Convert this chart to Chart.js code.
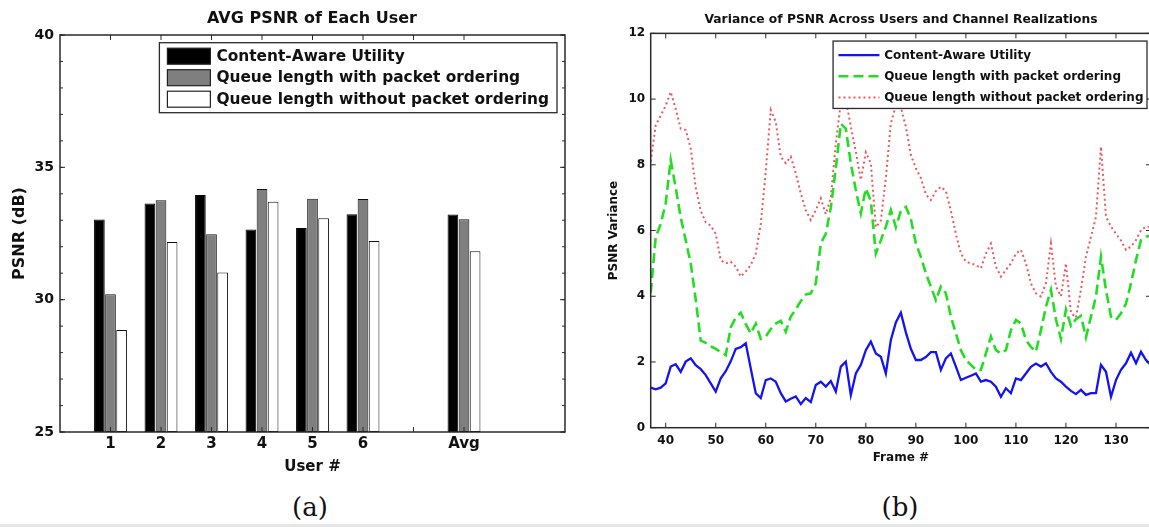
<!DOCTYPE html>
<html><head><meta charset="utf-8">
<script src="https://cdn.jsdelivr.net/npm/chart.js@4.4.0/dist/chart.umd.min.js"></script>
<style>
html,body{margin:0;padding:0;background:#fff;width:1149px;height:527px;overflow:hidden;position:relative;}
#wrapA{position:absolute;left:0;top:0;width:624px;height:490px;}
#wrapB{position:absolute;left:590px;top:0;width:622px;height:490px;}
.cap{position:absolute;top:492px;font-family:"DejaVu Serif",serif;font-size:26px;line-height:30px;color:#111;transform:translateX(-50%);}
#bottomline{position:absolute;left:0;top:524px;width:1149px;height:3px;background:#e6e6e6;}
</style></head>
<body>
<div id="wrapA"><canvas id="cA"></canvas></div>
<div id="wrapB"><canvas id="cB"></canvas></div>
<div class="cap" style="left:310px">(a)</div>
<div class="cap" style="left:900px">(b)</div>
<div id="bottomline"></div>
<script>
// ===== Data: (a) AVG PSNR of each user =====
const users = ['1','2','3','4','5','6','Avg'];
const userTickLabels = ['', '1','2','3','4','5','6','','Avg','',''];
const psnrContentAware = [33.03, 33.63, 33.95, 32.65, 32.71, 33.23, 33.22];
const psnrQueueWith    = [30.20, 33.76, 32.47, 34.18, 33.81, 33.80, 33.04];
const psnrQueueWithout = [28.85, 32.18, 31.03, 33.70, 33.08, 32.22, 31.83];
const psnrTicks = [25, 30, 35, 40];

// ===== Data: (b) variance of PSNR per frame =====
const frames = [37,38,39,40,41,42,43,44,45,46,47,48,49,50,51,52,53,54,55,56,57,58,59,60,61,62,63,64,65,66,67,68,69,70,71,72,73,74,75,76,77,78,79,80,81,82,83,84,85,86,87,88,89,90,91,92,93,94,95,96,97,98,99,100,101,102,103,104,105,106,107,108,109,110,111,112,113,114,115,116,117,118,119,120,121,122,123,124,125,126,127,128,129,130,131,132,133,134,135,136,137];
const varContentAware = [1.22,1.17,1.22,1.35,1.86,1.93,1.70,2.01,2.11,1.90,
  1.78,1.60,1.35,1.10,1.50,1.72,2.02,2.40,2.45,2.57,
  1.80,1.05,0.90,1.45,1.50,1.40,1.05,0.80,0.88,0.95,
  0.72,0.90,0.78,1.30,1.40,1.25,1.42,1.10,1.86,2.01,
  0.99,1.65,1.91,2.36,2.62,2.26,2.16,1.65,2.67,3.20,
  3.50,2.90,2.40,2.06,2.06,2.15,2.30,2.30,1.76,2.11,
  2.26,1.86,1.45,1.52,1.58,1.65,1.40,1.45,1.40,1.25,
  0.94,1.20,1.05,1.50,1.45,1.65,1.85,1.95,1.86,1.96,
  1.70,1.50,1.40,1.25,1.12,1.02,1.15,1.00,1.05,1.05,
  1.91,1.70,0.94,1.45,1.76,1.96,2.28,1.96,2.31,2.06,1.90];
const varQueueWith = [4.10,5.80,6.20,6.83,8.15,7.30,6.40,5.70,5.00,3.90,
  2.65,2.58,2.48,2.40,2.30,2.21,3.05,3.35,3.50,3.15,
  2.87,3.17,2.70,2.78,3.00,3.17,3.25,2.92,3.38,3.60,
  3.85,4.05,4.09,4.39,5.61,5.90,6.70,7.90,9.25,9.10,
  8.04,7.23,6.52,7.28,6.90,5.30,5.70,6.12,6.62,6.10,
  6.60,6.72,6.35,5.61,5.20,4.70,4.29,3.88,4.29,4.09,
  3.38,2.87,2.36,2.06,1.91,1.76,1.76,2.26,2.77,2.36,
  2.26,2.36,2.97,3.28,3.17,2.67,2.46,2.31,2.97,3.68,
  4.20,3.30,2.70,3.60,3.10,3.30,3.40,2.75,3.38,3.99,
  5.20,4.19,3.38,3.28,3.48,3.78,4.39,5.10,5.71,5.81,5.85];
const varQueueWithout = [8.10,9.20,9.50,9.80,10.22,9.70,9.10,9.06,8.50,7.30,
  6.60,6.25,6.15,5.90,5.10,5.00,5.05,4.90,4.60,4.75,
  4.95,5.30,6.20,7.80,9.67,9.30,8.25,8.05,8.25,7.74,
  7.13,6.62,6.32,6.62,6.98,6.50,7.00,8.65,9.90,10.00,
  9.16,8.40,7.54,8.38,8.04,6.10,6.30,7.60,9.26,9.80,
  9.75,9.16,8.30,7.90,7.60,7.10,6.93,7.20,7.33,7.20,
  6.60,5.90,5.30,5.05,5.00,4.95,4.85,5.30,5.60,4.90,
  4.60,4.80,5.00,5.30,5.41,5.00,4.39,4.09,3.99,4.40,
  5.60,4.30,4.00,5.00,3.50,3.35,4.20,5.20,5.81,6.42,
  8.55,6.42,6.12,5.90,5.70,5.41,5.51,5.71,6.01,6.12,6.10];
const frameTicks = [40,50,60,70,80,90,100,110,120,130];
const varianceTicks = [0,2,4,6,8,10,12];

const seriesNames = ['Content-Aware Utility','Queue length with packet ordering','Queue length without packet ordering'];

Chart.defaults.font.family = '"DejaVu Sans", sans-serif';
Chart.defaults.font.weight = 'bold';
Chart.defaults.color = '#111';

// MATLAB-like box, inward ticks and in-axes legend
const matlabAxes = {
  id: 'matlabAxes',
  afterDatasetsDraw(chart, args, o) {
    const {ctx, chartArea: a} = chart;
    const xs = chart.scales.x, ys = chart.scales.y;
    ctx.save();
    ctx.strokeStyle = o.color;
    ctx.lineWidth = 1;
    ctx.beginPath();
    const xPix = o.xTickPixels(chart);
    xPix.forEach(p => {
      ctx.moveTo(p, a.bottom); ctx.lineTo(p, a.bottom - o.len);
      ctx.moveTo(p, a.top); ctx.lineTo(p, a.top + o.len);
    });
    ys.ticks.forEach(t => {
      const p = ys.getPixelForValue(t.value);
      ctx.moveTo(a.left, p); ctx.lineTo(a.left + o.len, p);
      ctx.moveTo(a.right, p); ctx.lineTo(a.right - o.len, p);
    });
    if (o.yMinor) {
      for (let v = ys.min; v <= ys.max + 1e-9; v += o.yMinor) {
        const p = ys.getPixelForValue(v);
        ctx.moveTo(a.left, p); ctx.lineTo(a.left + o.minorLen, p);
        ctx.moveTo(a.right, p); ctx.lineTo(a.right - o.minorLen, p);
      }
    }
    ctx.stroke();

    // legend
    const L = o.legend;
    const ds = chart.data.datasets;
    ctx.font = L.font;
    const maxW = Math.max(...ds.map(d => ctx.measureText(d.label).width));
    const w = L.padL + L.sampleW + L.gap + maxW + L.padR;
    const h = L.firstRow + (ds.length - 1) * L.rowH + L.bottomPad;
    const bx = a.right - L.right - w, by = a.top + L.top;
    ctx.fillStyle = '#fff';
    ctx.fillRect(bx, by, w, h);
    ctx.strokeStyle = o.color; ctx.lineWidth = 1.3;
    ctx.strokeRect(bx, by, w, h);
    ds.forEach((d, i) => {
      const cy = by + L.firstRow + i * L.rowH;
      const sx = bx + L.padL;
      if (L.type === 'bar') {
        ctx.fillStyle = d.backgroundColor;
        ctx.fillRect(sx, cy - L.sampleH / 2, L.sampleW, L.sampleH);
        ctx.strokeStyle = '#222'; ctx.lineWidth = 1.2;
        ctx.strokeRect(sx, cy - L.sampleH / 2, L.sampleW, L.sampleH);
      } else {
        ctx.strokeStyle = d.borderColor; ctx.lineWidth = d.borderWidth;
        ctx.setLineDash(d.borderDash || []);
        ctx.beginPath(); ctx.moveTo(sx, cy); ctx.lineTo(sx + L.sampleW, cy); ctx.stroke();
        ctx.setLineDash([]);
      }
      ctx.fillStyle = '#111';
      ctx.textAlign = 'left'; ctx.textBaseline = 'middle';
      ctx.fillText(d.label, sx + L.sampleW + L.gap, cy + 0.5);
    });

    // box
    ctx.strokeStyle = o.color; ctx.lineWidth = o.frameWidth;
    ctx.strokeRect(a.left, a.top, a.width, a.height);
    ctx.restore();
  }
};

// ===== Chart (a) =====
function slot(values) {
  return userTickLabels.map(l => { const i = users.indexOf(l); return (l !== '' && i >= 0) ? values[i] : null; });
}
const firstUserIdx = userTickLabels.findIndex(l => l !== '');
const lastUserIdx = userTickLabels.length - 1 - [...userTickLabels].reverse().findIndex(l => l !== '');

new Chart(document.getElementById('cA'), {
  type: 'bar',
  data: {
    labels: userTickLabels,
    datasets: [
      { label: seriesNames[0], data: slot(psnrContentAware), backgroundColor: '#000', borderColor: '#000', borderWidth: 1 },
      { label: seriesNames[1], data: slot(psnrQueueWith), backgroundColor: '#7f7f7f', borderColor: '#111', borderWidth: 1 },
      { label: seriesNames[2], data: slot(psnrQueueWithout), backgroundColor: '#fff', borderColor: '#111', borderWidth: 1 }
    ]
  },
  options: {
    responsive: true, maintainAspectRatio: false, animation: false,
    layout: { padding: 0 },
    datasets: { bar: { categoryPercentage: 0.66, barPercentage: 0.96, base: psnrTicks[0], borderSkipped: false } },
    scales: {
      x: {
        type: 'category', offset: false,
        grid: { display: false, drawTicks: false }, border: { display: false },
        ticks: { autoSkip: false, maxRotation: 0, padding: 3, font: { size: 15, weight: 'bold' }, color: '#111' },
        title: { display: true, text: 'User #', font: { size: 15, weight: 'bold' }, padding: { top: 0, bottom: 14.3 }, color: '#111' },
        afterFit: s => { s.height = 58; }
      },
      y: {
        min: psnrTicks[0], max: psnrTicks[psnrTicks.length - 1],
        afterBuildTicks: s => { s.ticks = psnrTicks.map(v => ({ value: v })); },
        grid: { display: false, drawTicks: false }, border: { display: false },
        ticks: { padding: 6, font: { size: 14, weight: 'bold' }, color: '#111' },
        title: { display: true, text: 'PSNR (dB)', font: { size: 16, weight: 'bold' }, padding: { top: 10.5, bottom: 0 }, color: '#111' },
        afterFit: s => { s.width = 60; }
      },
      y2: {
        position: 'right', display: true,
        grid: { display: false, drawTicks: false }, border: { display: false },
        ticks: { display: false },
        afterFit: s => { s.width = 59; }
      }
    },
    plugins: {
      legend: { display: false },
      tooltip: { enabled: false },
      title: { display: true, text: 'AVG PSNR of Each User', font: { size: 16, weight: 'bold' }, padding: { top: 9.4, bottom: 6.4 }, color: '#111' },
      matlabAxes: {
        color: '#2a2a2a', len: 5, minorLen: 3, yMinor: 1, frameWidth: 1.5,
        xTickPixels: ch => { const xs = ch.scales.x; const r = []; for (let i = firstUserIdx; i <= lastUserIdx; i++) r.push(xs.getPixelForTick(i)); return r; },
        legend: { type: 'bar', font: 'bold 15.4px "DejaVu Sans"', right: 8, top: 7.7, padL: 8, sampleW: 43, sampleH: 16, gap: 6, padR: 8, firstRow: 13.5, rowH: 21.5, bottomPad: 13.5 }
      }
    }
  },
  plugins: [matlabAxes]
});

// ===== Chart (b) =====
const pts = vals => frames.map((f, i) => ({ x: f, y: vals[i] }));
new Chart(document.getElementById('cB'), {
  type: 'line',
  data: {
    datasets: [
      { label: seriesNames[0], data: pts(varContentAware), borderColor: '#1414f0', borderWidth: 2.3, pointRadius: 0, tension: 0, fill: false },
      { label: seriesNames[1], data: pts(varQueueWith), borderColor: '#22dd22', borderWidth: 2.6, borderDash: [10, 5], pointRadius: 0, tension: 0, fill: false },
      { label: seriesNames[2], data: pts(varQueueWithout), borderColor: 'rgba(232,45,55,0.8)', borderWidth: 2, borderDash: [2, 3], pointRadius: 0, tension: 0, fill: false }
    ]
  },
  options: {
    responsive: true, maintainAspectRatio: false, animation: false,
    layout: { padding: 0 },
    scales: {
      x: {
        type: 'linear', min: frames[0], max: frames[frames.length - 1],
        afterBuildTicks: s => { s.ticks = frameTicks.map(v => ({ value: v })); },
        grid: { display: false, drawTicks: false }, border: { display: false },
        ticks: { padding: 6, maxRotation: 0, font: { size: 12, weight: 'bold' }, color: '#111' },
        title: { display: true, text: 'Frame #', font: { size: 12, weight: 'bold' }, padding: { top: 0, bottom: 25.3 }, color: '#111' },
        afterFit: s => { s.height = 62.3; }
      },
      y: {
        min: varianceTicks[0], max: varianceTicks[varianceTicks.length - 1],
        afterBuildTicks: s => { s.ticks = varianceTicks.map(v => ({ value: v })); },
        grid: { display: false, drawTicks: false }, border: { display: false },
        ticks: { padding: 5.5, font: { size: 12, weight: 'bold' }, color: '#111' },
        title: { display: true, text: 'PSNR Variance', font: { size: 12, weight: 'bold' }, padding: { top: 16.8, bottom: 0 }, color: '#111' },
        afterFit: s => { s.width = 60.7; }
      },
      y2: {
        position: 'right', display: true,
        grid: { display: false, drawTicks: false }, border: { display: false },
        ticks: { display: false },
        afterFit: s => { s.width = 61; }
      }
    },
    plugins: {
      legend: { display: false },
      tooltip: { enabled: false },
      title: { display: true, text: 'Variance of PSNR Across Users and Channel Realizations', font: { size: 12.3, weight: 'bold' }, padding: { top: 12.6, bottom: 6.0 }, color: '#111' },
      matlabAxes: {
        color: '#2a2a2a', len: 5, minorLen: 0, yMinor: 0, frameWidth: 1.5,
        xTickPixels: ch => { const xs = ch.scales.x; return xs.ticks.map(t => xs.getPixelForValue(t.value)); },
        legend: { type: 'line', font: 'bold 12px "DejaVu Sans"', right: 4, top: 7.7, padL: 5.4, sampleW: 41, gap: 4.7, padR: 3.5, firstRow: 14, rowH: 21.2, bottomPad: 11 }
      }
    }
  },
  plugins: [matlabAxes]
});
</script>
</body></html>
